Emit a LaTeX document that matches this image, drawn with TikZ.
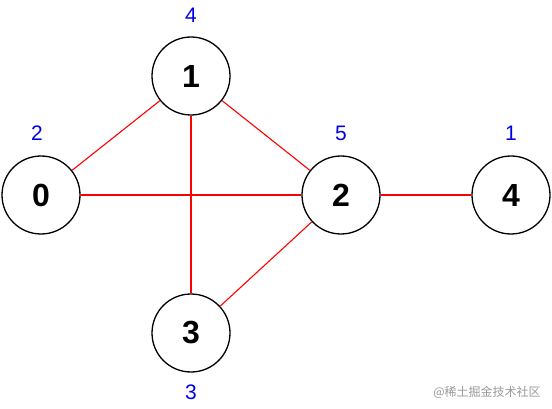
\documentclass[tikz,border=0pt]{standalone}
\usepackage{fontspec}
\setmainfont{Liberation Sans}
\newfontfamily\cjk{Noto Sans CJK SC}
\begin{document}
\begin{tikzpicture}[x=1pt,y=-1pt,
  vtx/.style={circle,draw=black,line width=1.3pt,minimum size=78pt,inner sep=0pt,font=\fontsize{32}{32}\selectfont\bfseries,fill=white},
  wlabel/.style={text=blue!90!black,font=\fontsize{21}{21}\selectfont,inner sep=0pt},
  edge/.style={draw=red,line width=1.1pt}]
\useasboundingbox (0,0) rectangle (552,409);
\node[vtx] (n0) at (41,195) {0};
\node[vtx] (n1) at (191,76) {1};
\node[vtx] (n2) at (341,195) {2};
\node[vtx] (n3) at (191,333) {3};
\node[vtx] (n4) at (511,195) {4};
\draw[edge] (n0) -- (n1);
\draw[edge] (n0) -- (n2);
\draw[edge] (n1) -- (n2);
\draw[edge] (n1) -- (n3);
\draw[edge] (n2) -- (n3);
\draw[edge] (n2) -- (n4);
\node[wlabel] (l0) at (37,133) {2};
\node[wlabel] (l1) at (191,15) {4};
\node[wlabel] (l2) at (341,133) {5};
\node[wlabel] (l4) at (511,133) {1};
\node[wlabel] (l3) at (191,392) {3};
\node[text=black!40,font=\cjk\fontsize{12}{12}\selectfont,inner sep=0pt] (wm) at (487,392) {@稀土掘金技术社区};
\end{tikzpicture}
\end{document}
